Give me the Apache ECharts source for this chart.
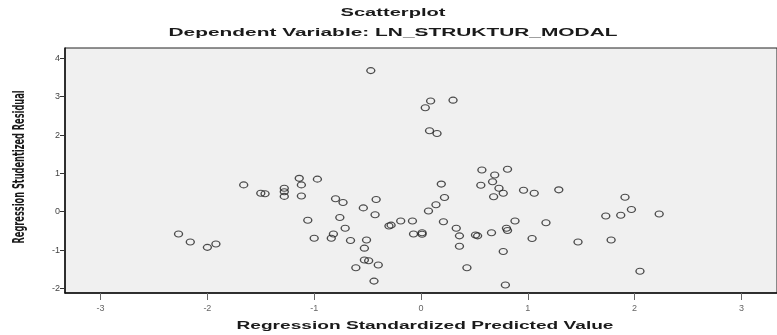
<!DOCTYPE html>
<html>
<head>
<meta charset="utf-8">
<script src="https://cdn.jsdelivr.net/npm/echarts@6/dist/echarts.min.js"></script>
<style>
  html, body { margin: 0; padding: 0; background: #fff; }
  #chart { width: 777px; height: 335px; }
</style>
</head>
<body>
<div id="chart"></div>
<script>
// standardized predicted value (x) and studentized residual (y)
const predicted = [
  -2.27, -2.16, -2.00, -1.92, -1.66, -1.50, -1.46, -1.28, -1.28, -1.28,
  -1.14, -1.12, -1.12, -0.97, -1.06, -0.80, -0.73, -0.76, -0.71, -0.82,
  -0.84, -1.00, -0.66, -0.51, -0.53, -0.42, -0.54, -0.43, -0.53, -0.49,
  -0.40, -0.61, -0.44, -0.30, -0.28, -0.19, -0.08, -0.07, 0.01, 0.01,
  0.07, 0.14, 0.19, 0.22, 0.21, -0.47, 0.09, 0.04, 0.30, 0.08,
  0.15, 0.33, 0.36, 0.36, 0.43, 0.51, 0.53, 0.66, 0.57, 0.56,
  0.69, 0.67, 0.68, 0.81, 0.73, 0.77, 0.96, 1.06, 1.29, 0.88,
  1.17, 0.80, 0.81, 1.04, 1.47, 0.77, 0.79, 1.91, 1.97, 1.87,
  1.73, 2.23, 1.78, 2.05
]
const residual = [
  -0.58, -0.79, -0.93, -0.84, 0.70, 0.48, 0.47, 0.61, 0.52, 0.40,
  0.87, 0.70, 0.41, 0.85, -0.22, 0.34, 0.24, -0.15, -0.43, -0.58,
  -0.69, -0.69, -0.75, -0.74, -0.95, 0.32, 0.10, -0.08, -1.26, -1.28,
  -1.39, -1.46, -1.81, -0.37, -0.35, -0.24, -0.24, -0.58, -0.55, -0.59,
  0.02, 0.18, 0.72, 0.37, -0.26, 3.68, 2.89, 2.71, 2.91, 2.11,
  2.04, -0.43, -0.63, -0.90, -1.46, -0.61, -0.63, -0.55, 1.09, 0.69,
  0.96, 0.78, 0.39, 1.11, 0.61, 0.48, 0.56, 0.48, 0.57, -0.24,
  -0.29, -0.43, -0.49, -0.70, -0.79, -1.04, -1.91, 0.38, 0.06, -0.09,
  -0.11, -0.06, -0.74, -1.55
]
const xTicks = [-3, -2, -1, 0, 1, 2, 3]
const yTicks = [-2, -1, 0, 1, 2, 3, 4]

const points = predicted.map((v, i) => [v, residual[i]])

// stretch text horizontally to the width it has in the picture
const measure = document.createElement('canvas').getContext('2d')
function stretched(text, font, width, x, y, rotation) {
  measure.font = font
  const w = measure.measureText(text).width
  return {
    type: 'text',
    x: x,
    y: y,
    rotation: rotation || 0,
    scaleX: width / w,
    silent: true,
    style: {
      text: text,
      font: font,
      fill: '#1a1a1a',
      textAlign: 'center',
      textVerticalAlign: 'middle'
    }
  }
}

const chart = echarts.init(document.getElementById('chart'))

const options = {
  backgroundColor: '#fff',
  animation: false,
  grid: {
    left: 65,
    top: 48,
    right: -8,
    bottom: 42,
    show: true,
    backgroundColor: '#f0f0f0',
    borderColor: '#222',
    borderWidth: 1
  },
  xAxis: {
    type: 'value',
    min: -3.333,
    max: 3.333,
    splitLine: { show: false },
    axisLine: { onZero: false, lineStyle: { color: '#111', width: 1.5 } },
    axisTick: { customValues: xTicks, length: 7, lineStyle: { color: '#666' } },
    axisLabel: {
      customValues: xTicks,
      margin: 11,
      fontSize: 9,
      color: '#666',
      fontFamily: 'Liberation Sans'
    }
  },
  yAxis: {
    type: 'value',
    min: -2.12,
    max: 4.27,
    splitLine: { show: false },
    axisLine: { onZero: false, lineStyle: { color: '#111', width: 1.5 } },
    axisTick: { customValues: yTicks, length: 5, lineStyle: { color: '#333' } },
    axisLabel: {
      customValues: yTicks,
      margin: 5,
      fontSize: 9,
      color: '#444',
      fontFamily: 'Liberation Sans'
    }
  },
  graphic: [
    stretched('Scatterplot', 'bold 11px "Liberation Sans"', 105, 393, 13),
    stretched('Dependent Variable: LN_STRUKTUR_MODAL', 'bold 11.5px "Liberation Sans"', 449, 393, 33),
    stretched('Regression Standardized Predicted Value', 'bold 11.5px "Liberation Sans"', 377, 425, 326),
    stretched('Regression Studentized Residual', 'bold 15px "Liberation Sans Narrow", "DejaVu Sans Condensed", "Liberation Sans"', 153, 20, 167, Math.PI / 2)
  ],
  series: [
    {
      type: 'scatter',
      data: points,
      symbol: 'circle',
      symbolSize: [8, 6],
      itemStyle: {
        color: 'rgba(0,0,0,0)',
        borderColor: '#222',
        borderWidth: 1.2
      }
    }
  ]
}

chart.setOption(options)
</script>
</body>
</html>
